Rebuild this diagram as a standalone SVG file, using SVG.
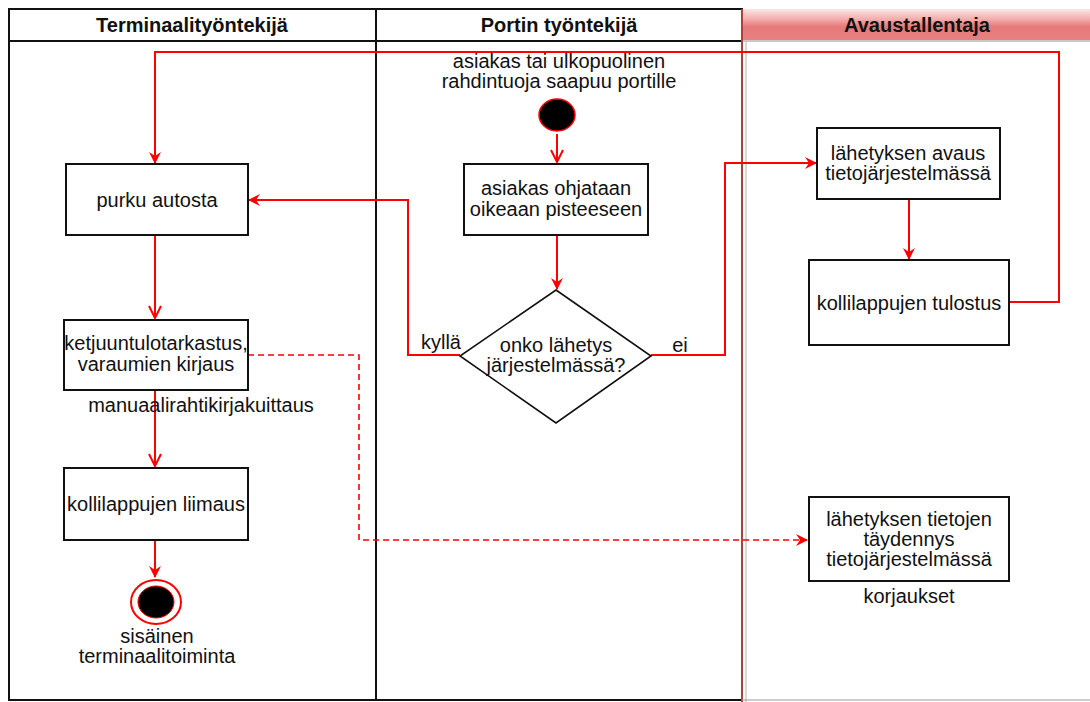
<svg xmlns="http://www.w3.org/2000/svg" width="1090" height="702" viewBox="0 0 1090 702">
<defs>
<linearGradient id="hdr" x1="0" y1="0" x2="0" y2="1">
<stop offset="0" stop-color="#fbe6e6"/>
<stop offset="0.3" stop-color="#f4b0b0"/>
<stop offset="0.55" stop-color="#e67a7a"/>
<stop offset="1" stop-color="#e88080"/>
</linearGradient>
<marker id="fa" viewBox="0 0 12 12" refX="11" refY="6" markerWidth="12" markerHeight="12" markerUnits="userSpaceOnUse" orient="auto">
<path d="M0,0 L12,6 L0,12 L4,6 Z" fill="#ff0000"/>
</marker>
<marker id="oa" viewBox="0 0 14 14" refX="13" refY="7" markerWidth="14" markerHeight="14" markerUnits="userSpaceOnUse" orient="auto">
<path d="M1,1 L13,7 L1,13" fill="none" stroke="#ff0000" stroke-width="2"/>
</marker>
</defs>
<style>
.lane{fill:none;stroke:#111;stroke-width:2}
.box{fill:#fff;stroke:#111;stroke-width:2}
.t{font-family:"Liberation Sans",Arial,sans-serif;font-size:20px;fill:#111;text-anchor:middle}
.h{font-family:"Liberation Sans",Arial,sans-serif;font-size:20px;font-weight:bold;fill:#111;text-anchor:middle}
.c{fill:none;stroke:#ff0000;stroke-width:2}
.d{fill:none;stroke:#ff0000;stroke-width:1.6;stroke-dasharray:6,4}
</style>
<rect width="1090" height="702" fill="#fff"/>
<g id="lanes">
<rect x="743" y="9" width="347" height="32" fill="url(#hdr)"/>
<line x1="743" y1="41" x2="1090" y2="41" stroke="#c8c8c8" stroke-width="2"/>
<line x1="746" y1="42" x2="746" y2="702" stroke="#d8d8d8" stroke-width="2"/>
<path class="lane" d="M743,9 H9 V700 H742 M9,41 H742 M376,9 V700"/>
<line x1="742" y1="9" x2="742" y2="702" stroke="#b04040" stroke-width="2"/>
<line x1="742" y1="700" x2="1090" y2="700" stroke="#999" stroke-width="1"/>
<text class="h" x="192" y="32">Terminaalityöntekijä</text>
<text class="h" x="559" y="32">Portin työntekijä</text>
<text class="h" x="917" y="32">Avaustallentaja</text>
</g>
<g id="connectors">
<path class="c" d="M557,134 V162" marker-end="url(#oa)"/>
<path class="c" d="M557,235 V289" marker-end="url(#fa)"/>
<path class="c" d="M460,355 H408 V200 H249" marker-end="url(#fa)"/>
<path class="c" d="M651,355 H725 V163 H816" marker-end="url(#fa)"/>
<path class="c" d="M909,200 V259" marker-end="url(#fa)"/>
<path class="c" d="M1009,302 H1059 V52 H155 V163" marker-end="url(#fa)"/>
<path class="c" d="M155,235 V318" marker-end="url(#oa)"/>
<path class="c" d="M155,390 V466" marker-end="url(#oa)"/>
<path class="c" d="M155,540 V577" marker-end="url(#fa)"/>
<path class="d" d="M248,355 H359 V540 H807" marker-end="url(#fa)"/>
</g>
<g id="start">
<text class="t" x="559" y="68">asiakas tai ulkopuolinen</text>
<text class="t" x="559" y="88">rahdintuoja saapuu portille</text>
<ellipse cx="557" cy="115" rx="18" ry="16" fill="#000" stroke="#ff0000" stroke-width="1.5"/>
</g>
<g id="ohjataan">
<rect class="box" x="464" y="164" width="184" height="71"/>
<text class="t" x="556" y="195">asiakas ohjataan</text>
<text class="t" x="556" y="216">oikeaan pisteeseen</text>
</g>
<g id="decision">
<polygon points="556,290 651,356 556,423 460,356" fill="#fff" stroke="#111" stroke-width="1.6"/>
<text class="t" x="556" y="352">onko lähetys</text>
<text class="t" x="556" y="372">järjestelmässä?</text>
<text class="t" x="441" y="349">kyllä</text>
<text class="t" x="680" y="352">ei</text>
</g>
<g id="purku">
<rect class="box" x="66" y="164" width="182" height="71"/>
<text class="t" x="157" y="207">purku autosta</text>
</g>
<g id="ketju">
<rect class="box" x="64" y="320" width="184" height="70"/>
<text class="t" x="156" y="350">ketjuuntulotarkastus,</text>
<text class="t" x="156" y="371">varaumien kirjaus</text>
<text class="t" x="201" y="412">manuaalirahtikirjakuittaus</text>
</g>
<g id="liimaus">
<rect class="box" x="64" y="468" width="184" height="72"/>
<text class="t" x="156" y="511">kollilappujen liimaus</text>
</g>
<g id="end">
<ellipse cx="156" cy="602" rx="25" ry="22" fill="#fff" stroke="#ff0000" stroke-width="2"/>
<ellipse cx="156" cy="602" rx="18" ry="16" fill="#000" stroke="#ff0000" stroke-width="1"/>
<text class="t" x="157" y="643">sisäinen</text>
<text class="t" x="157" y="663">terminaalitoiminta</text>
</g>
<g id="avaus">
<rect class="box" x="817" y="128" width="183" height="71"/>
<text class="t" x="908" y="160">lähetyksen avaus</text>
<text class="t" x="908" y="180">tietojärjestelmässä</text>
</g>
<g id="tulostus">
<rect class="box" x="809" y="260" width="200" height="85"/>
<text class="t" x="909" y="310">kollilappujen tulostus</text>
</g>
<g id="taydennys">
<rect class="box" x="809" y="497" width="200" height="84"/>
<text class="t" x="909" y="526">lähetyksen tietojen</text>
<text class="t" x="909" y="546">täydennys</text>
<text class="t" x="909" y="566">tietojärjestelmässä</text>
<text class="t" x="909" y="603">korjaukset</text>
</g>
</svg>
